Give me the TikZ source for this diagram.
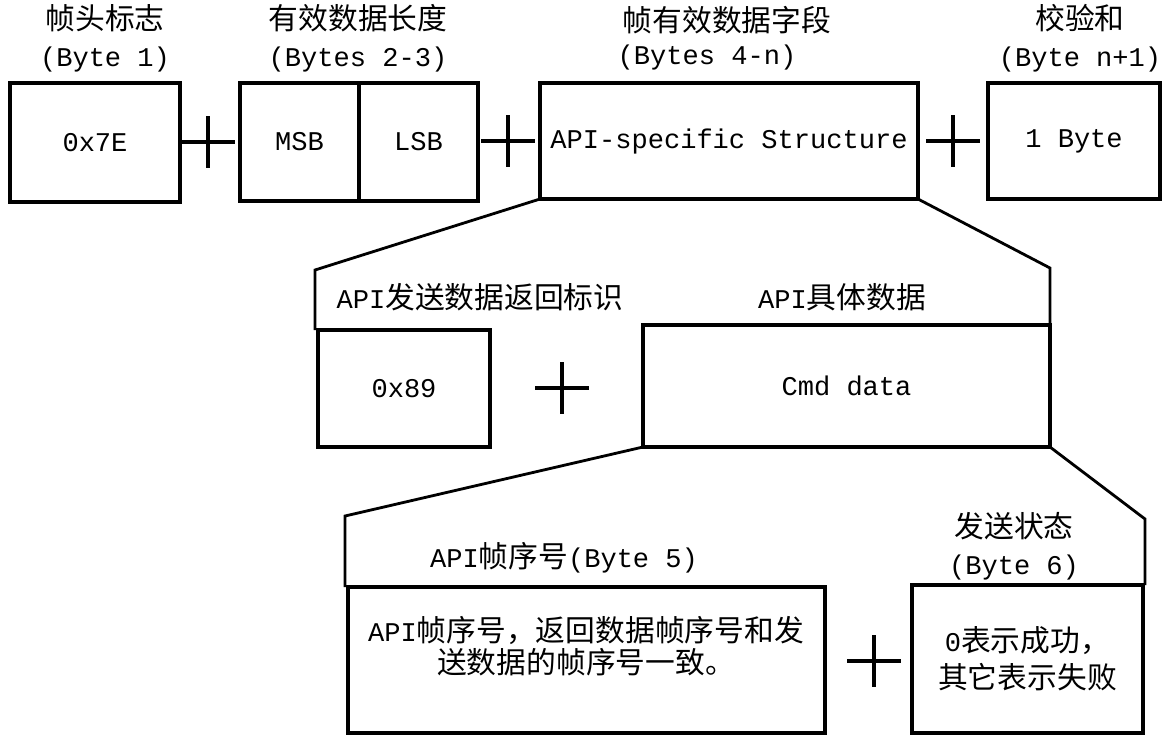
\documentclass[tikz,border=0pt]{standalone}
\usepackage{fontspec}
\setmainfont{Liberation Mono}
\newfontfamily\cjk[Scale=1.1]{Noto Sans CJK SC}
\usetikzlibrary{positioning}
\tikzstyle{field} = [rectangle, draw=black, line width=2.2pt, inner sep=0pt, outer sep=0pt, text centered]
\tikzstyle{head} = [align=center, inner sep=0pt]
\tikzstyle{funnel} = [line width=1.6pt, line join=miter]
\tikzstyle{plusline} = [line width=1.8pt]
\newcommand{\plusat}[1]{\draw[plusline] (#1) +(-27,0) -- +(27,0) (#1) +(0,-26) -- +(0,26);}

\begin{document}
\begin{tikzpicture}[x=0.02cm, y=-0.02cm, font=\fontsize{15.4}{21}\selectfont]
\useasboundingbox (0,0) rectangle (1172,735);

% frame
\node (hdr) [field, minimum width=3.4cm, minimum height=2.38cm] at (95,142.5) {0x7E};
\node (msb) [field, minimum width=2.38cm, minimum height=2.36cm] at (299.5,142) {MSB};
\node (lsb) [field, minimum width=2.38cm, minimum height=2.36cm, right=0pt of msb] {LSB};
\node (payload) [field, minimum width=7.56cm, minimum height=2.32cm] at (729,141) {API-specific Structure};
\node (cksum) [field, minimum width=3.44cm, minimum height=2.32cm] at (1074,141) {1 Byte};

\node (hdrlbl) [head] at (105,38) {{\cjk 帧头标志}\\(Byte 1)};
\node (lenlbl) [head] at (358,38) {{\cjk 有效数据长度}\\(Bytes 2-3)};
\node (paylbl) [head] at (727,20) {\cjk 帧有效数据字段};
\node (paybyte) [head] at (707,57) {(Bytes 4-n)};
\node (cklbl) [head] at (1080,38) {{\cjk 校验和}\\(Byte n+1)};

\plusat{208,142}
\plusat{508,141}
\plusat{953,141}

% api structure
\node (ack) [field, minimum width=3.44cm, minimum height=2.34cm] at (404,388.5) {0x89};
\node (cmd) [field, minimum width=8.14cm, minimum height=2.44cm] at (846.5,386) {Cmd data};
\node (acklbl) [head] at (480,297) {API{\cjk 发送数据返回标识}};
\node (cmdlbl) [head] at (842,297) {API{\cjk 具体数据}};
\plusat{562,388}

\coordinate (f1l) at (315,270);
\coordinate (f1r) at (1050,268);
\draw [funnel] (payload.south west) -- (f1l) -- (f1l |- ack.north);
\draw [funnel] (payload.south east) -- (f1r) -- (cmd.north east);

% cmd data
\node (seq) [field, minimum width=9.54cm, minimum height=2.92cm] at (586.5,660) {};
\node (seqtxt) [head, text width=9.3cm] at (586,646) {API{\cjk 帧序号，返回数据帧序号和发}\\[-3pt]{\cjk 送数据的帧序号一致。}};
\node (status) [field, minimum width=4.62cm, minimum height=2.96cm, align=center] at (1027.5,659) {0{\cjk 表示成功，}\\{\cjk 其它表示失败}};
\node (seqlbl) [head] at (564,558) {API{\cjk 帧序号}(Byte 5)};
\node (stlbl) [head] at (1014,546) {{\cjk 发送状态}\\(Byte 6)};
\plusat{874,661}

\coordinate (f2l) at (345,516);
\coordinate (f2r) at (1145,519);
\draw [funnel] (cmd.south west) -- (f2l) -- (f2l |- seq.north);
\draw [funnel] (cmd.south east) -- (f2r) -- (f2r |- status.north);

\end{tikzpicture}
\end{document}
